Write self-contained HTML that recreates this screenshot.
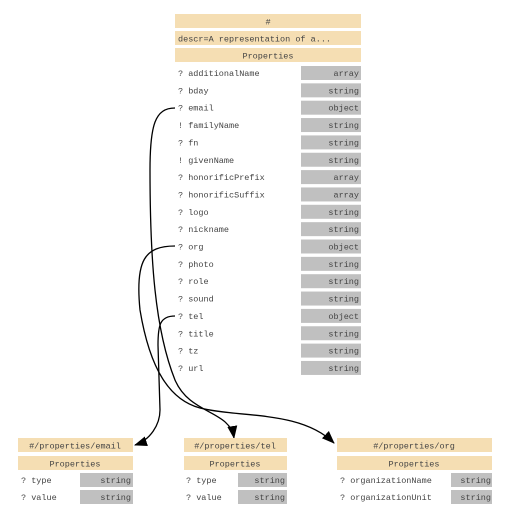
<!DOCTYPE html>
<html><head><meta charset="utf-8"><style>
html,body{margin:0;padding:0;background:#fff;}
svg text{font-family:"Liberation Mono",monospace;font-size:8.5px;fill:#444;}
</style></head><body>
<svg width="511" height="519" xmlns="http://www.w3.org/2000/svg">
<defs><marker id="a" markerWidth="13" markerHeight="12" refX="12" refY="6" orient="auto" markerUnits="userSpaceOnUse"><path d="M0,1 L13,6 L0,11 z" fill="#000"/></marker></defs>
<rect x="175" y="14" width="186" height="14" fill="#f5deb3"/>
<text x="268" y="24.5" text-anchor="middle">#</text>
<rect x="175" y="31" width="186" height="14" fill="#f5deb3"/>
<text x="178" y="41.5">descr=A representation of a...</text>
<rect x="175" y="48" width="186" height="14" fill="#f5deb3"/>
<text x="268" y="58.5" text-anchor="middle">Properties</text>
<g id="rows"></g>
<path d="M175,108 C155,108 150,125 150,170 C150,260 155,330 175,380 C190,415 230,410 234,438" fill="none" stroke="#000" stroke-width="1.3" marker-end="url(#a)"/>
<path d="M175,246 C145,246 135,260 140,310 C150,370 170,400 200,408 C240,418 300,410 334,443" fill="none" stroke="#000" stroke-width="1.3" marker-end="url(#a)"/>
<path d="M175,316 C160,316 158,325 158,345 L160,410 C160,425 150,440 135,445" fill="none" stroke="#000" stroke-width="1.3" marker-end="url(#a)"/>
<rect x="18" y="438" width="115" height="14" fill="#f5deb3"/><text x="75" y="448.5" text-anchor="middle">#/properties/email</text>
<rect x="18" y="456" width="115" height="14" fill="#f5deb3"/><text x="75" y="466.5" text-anchor="middle">Properties</text>
<text x="21" y="483">? type</text><rect x="80" y="473" width="53" height="14" fill="#c0c0c0"/><text x="131" y="483" text-anchor="end">string</text>
<text x="21" y="500">? value</text><rect x="80" y="490" width="53" height="14" fill="#c0c0c0"/><text x="131" y="500" text-anchor="end">string</text>
<rect x="184" y="438" width="103" height="14" fill="#f5deb3"/><text x="235" y="448.5" text-anchor="middle">#/properties/tel</text>
<rect x="184" y="456" width="103" height="14" fill="#f5deb3"/><text x="235" y="466.5" text-anchor="middle">Properties</text>
<text x="186" y="483">? type</text><rect x="238" y="473" width="49" height="14" fill="#c0c0c0"/><text x="285" y="483" text-anchor="end">string</text>
<text x="186" y="500">? value</text><rect x="238" y="490" width="49" height="14" fill="#c0c0c0"/><text x="285" y="500" text-anchor="end">string</text>
<rect x="337" y="438" width="155" height="14" fill="#f5deb3"/><text x="414" y="448.5" text-anchor="middle">#/properties/org</text>
<rect x="337" y="456" width="155" height="14" fill="#f5deb3"/><text x="414" y="466.5" text-anchor="middle">Properties</text>
<text x="340" y="483">? organizationName</text><rect x="451" y="473" width="41" height="14" fill="#c0c0c0"/><text x="491" y="483" text-anchor="end">string</text>
<text x="340" y="500">? organizationUnit</text><rect x="451" y="490" width="41" height="14" fill="#c0c0c0"/><text x="491" y="500" text-anchor="end">string</text>
</svg>
<script>
var d=[["?","additionalName","array"],["?","bday","string"],["?","email","object"],["!","familyName","string"],["?","fn","string"],["!","givenName","string"],["?","honorificPrefix","array"],["?","honorificSuffix","array"],["?","logo","string"],["?","nickname","string"],["?","org","object"],["?","photo","string"],["?","role","string"],["?","sound","string"],["?","tel","object"],["?","title","string"],["?","tz","string"],["?","url","string"]];
var g=document.getElementById("rows"),h="";
d.forEach(function(r,i){var y=66+i*17.35;
h+='<text x="178" y="'+(y+10)+'">'+r[0]+' '+r[1]+'</text><rect x="301" y="'+y+'" width="60" height="14" fill="#c0c0c0"/><text x="359" y="'+(y+10)+'" text-anchor="end">'+r[2]+'</text>';});
g.innerHTML=h;
</script>
</body></html>
